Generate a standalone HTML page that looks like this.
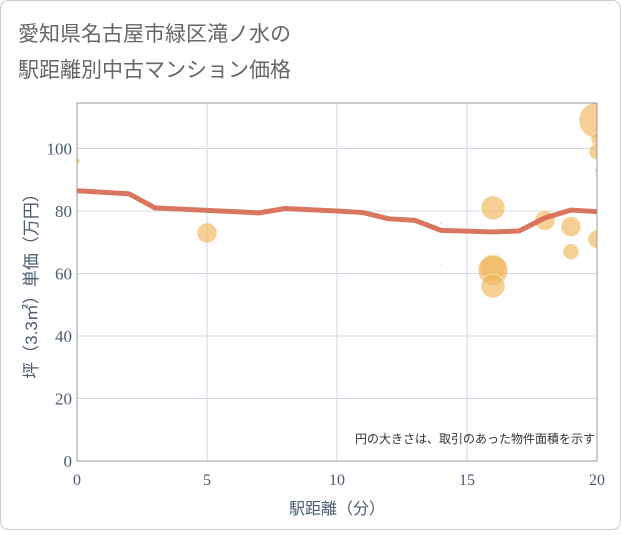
<!DOCTYPE html>
<html><head><meta charset="utf-8"><style>
body{margin:0;background:#fff;font-family:"Liberation Sans","Noto Sans CJK JP",sans-serif;}
#wrap{position:relative;width:621px;height:530px;}
</style></head><body>
<div id="wrap">
<svg id="c" width="621" height="530" xmlns="http://www.w3.org/2000/svg">
<rect x="0.5" y="0.5" width="620" height="529" rx="8" fill="#fff" stroke="#ccc"/>
<text x="18" y="41" font-size="21" fill="#666" font-family="Liberation Sans,Noto Sans CJK JP,sans-serif">愛知県名古屋市緑区滝ノ水の</text>
<text x="18" y="77" font-size="21" fill="#666" font-family="Liberation Sans,Noto Sans CJK JP,sans-serif">駅距離別中古マンション価格</text>
<g id="grid"></g>
<g id="marks"></g>
<rect x="77" y="103" width="520" height="358" fill="none" stroke="#999"/>
<g id="ticks"></g>
<text x="337" y="514" text-anchor="middle" font-size="16" fill="#4a5a72" font-family="Liberation Sans,Noto Sans CJK JP,sans-serif">駅距離（分）</text>
<text transform="translate(37,282) rotate(-90)" text-anchor="middle" font-size="17" fill="#4a5a72" font-family="Liberation Sans,Noto Sans CJK JP,sans-serif">坪（3.3㎡）単価（万円）</text>
<text x="595" y="443" text-anchor="end" font-size="12" fill="#333" font-family="Liberation Sans,Noto Sans CJK JP,sans-serif">円の大きさは、取引のあった物件面積を示す</text>
</svg>
</div>
<script>
const xTicks=[0,5,10,15,20];
const yTicks=[0,20,40,60,80,100];
const lineX=[0,2,3,5,7,8,10,11,12,13,14,16,17,18,19,20];
const lineY=[86.5,85.5,81,80.2,79.4,80.8,80,79.5,77.5,77,73.8,73.3,73.6,77.8,80.3,79.8];
const bubX=[0,5,14,14,16,16,16,16,18,19,19,20,20,20,20,20];
const bubY=[96,73,76,63,81,62,61,56,77,75,67,109,103,99,93,71];
const bubR=[3,10,1,1,12,13,15,12,10,10,8,18,6,8,2,9];
const NS="http://www.w3.org/2000/svg";
const L=77,R=597,T=103,B=461;
const sx=v=>L+v*(R-L)/20;
const sy=v=>B-v*3.125;
const grid=document.getElementById('grid'),marks=document.getElementById('marks'),ticks=document.getElementById('ticks');
function mk(tag,attrs,parent){const e=document.createElementNS(NS,tag);for(const k in attrs)e.setAttribute(k,attrs[k]);parent.appendChild(e);return e;}
xTicks.forEach(v=>{
 const g=mk('line',{x1:sx(v),x2:sx(v),y1:T,y2:B,stroke:'#d0dae6'},grid);
 
 
 const t=mk('text',{x:sx(v),y:B+24,'text-anchor':'middle','font-size':16,fill:'#4a5a72','font-family':'Liberation Serif,serif'},ticks);
 t.textContent=v;
 
 
});
yTicks.forEach(v=>{
 const g=mk('line',{x1:L,x2:R,y1:sy(v),y2:sy(v),stroke:'#d0dae6'},grid);
 
 
 const t=mk('text',{x:L-5,y:sy(v)+6,'text-anchor':'end','font-size':17,fill:'#4a5a72','font-family':'Liberation Serif,serif'},ticks);
 t.textContent=v;
 
 
});
mk('clipPath',{id:'cp'},marks);
mk('rect',{x:L,y:T,width:R-L,height:B-T},document.getElementById('cp'));
const bg=mk('g',{'clip-path':'url(#cp)'},marks);
bubX.forEach((x,i)=>{
 const c=mk('circle',{cx:sx(x),cy:sy(bubY[i]),r:bubR[i],fill:'#f0b55a','fill-opacity':0.65,stroke:'#fff','stroke-opacity':0.5},bg);
 
 
});
const p=mk('polyline',{points:lineX.map((x,i)=>sx(x)+','+sy(lineY[i])).join(' '),fill:'none',stroke:'#d6674f','stroke-width':5,'stroke-opacity':0.9,'stroke-linejoin':'round'},bg);


</script>
</body></html>
